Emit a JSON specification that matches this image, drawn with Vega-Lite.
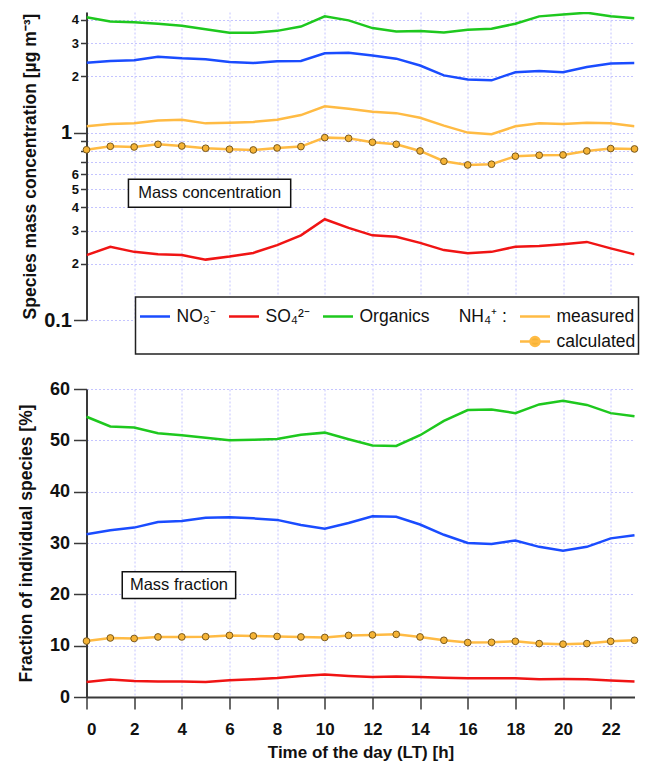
{
  "$schema": "https://vega.github.io/schema/vega-lite/v6.json",
  "padding": {"left": 17.5, "top": 12, "right": 5, "bottom": 5},
  "background": "white",
  "config": {
    "view": {"stroke": null},
    "font": "Liberation Sans",
    "axis": {
      "gridColor": "#c4c4ff",
      "gridDash": [2, 2],
      "gridWidth": 1,
      "domainColor": "#3a3a3a",
      "domainWidth": 2,
      "tickColor": "#3a3a3a",
      "tickWidth": 1.5,
      "labelColor": "#111111",
      "labelFont": "Liberation Sans",
      "labelFontWeight": "bold",
      "titleFont": "Liberation Sans",
      "titleFontWeight": "bold",
      "titleColor": "#111111"
    }
  },
  "datasets": {
    "conc": [
      {"h":0,"s":"NO3","v":2.36},{"h":1,"s":"NO3","v":2.41},{"h":2,"s":"NO3","v":2.43},{"h":3,"s":"NO3","v":2.54},{"h":4,"s":"NO3","v":2.49},{"h":5,"s":"NO3","v":2.46},{"h":6,"s":"NO3","v":2.38},{"h":7,"s":"NO3","v":2.35},{"h":8,"s":"NO3","v":2.40},{"h":9,"s":"NO3","v":2.41},{"h":10,"s":"NO3","v":2.65},{"h":11,"s":"NO3","v":2.67},{"h":12,"s":"NO3","v":2.58},{"h":13,"s":"NO3","v":2.48},{"h":14,"s":"NO3","v":2.28},{"h":15,"s":"NO3","v":2.02},{"h":16,"s":"NO3","v":1.92},{"h":17,"s":"NO3","v":1.90},{"h":18,"s":"NO3","v":2.10},{"h":19,"s":"NO3","v":2.13},{"h":20,"s":"NO3","v":2.10},{"h":21,"s":"NO3","v":2.24},{"h":22,"s":"NO3","v":2.34},{"h":23,"s":"NO3","v":2.35},
      {"h":0,"s":"SO4","v":0.222},{"h":1,"s":"SO4","v":0.246},{"h":2,"s":"SO4","v":0.231},{"h":3,"s":"SO4","v":0.224},{"h":4,"s":"SO4","v":0.222},{"h":5,"s":"SO4","v":0.210},{"h":6,"s":"SO4","v":0.218},{"h":7,"s":"SO4","v":0.228},{"h":8,"s":"SO4","v":0.251},{"h":9,"s":"SO4","v":0.283},{"h":10,"s":"SO4","v":0.345},{"h":11,"s":"SO4","v":0.310},{"h":12,"s":"SO4","v":0.283},{"h":13,"s":"SO4","v":0.278},{"h":14,"s":"SO4","v":0.258},{"h":15,"s":"SO4","v":0.236},{"h":16,"s":"SO4","v":0.227},{"h":17,"s":"SO4","v":0.231},{"h":18,"s":"SO4","v":0.246},{"h":19,"s":"SO4","v":0.248},{"h":20,"s":"SO4","v":0.254},{"h":21,"s":"SO4","v":0.261},{"h":22,"s":"SO4","v":0.241},{"h":23,"s":"SO4","v":0.224},
      {"h":0,"s":"Org","v":4.13},{"h":1,"s":"Org","v":3.92},{"h":2,"s":"Org","v":3.88},{"h":3,"s":"Org","v":3.81},{"h":4,"s":"Org","v":3.72},{"h":5,"s":"Org","v":3.56},{"h":6,"s":"Org","v":3.41},{"h":7,"s":"Org","v":3.41},{"h":8,"s":"Org","v":3.49},{"h":9,"s":"Org","v":3.68},{"h":10,"s":"Org","v":4.17},{"h":11,"s":"Org","v":3.97},{"h":12,"s":"Org","v":3.61},{"h":13,"s":"Org","v":3.46},{"h":14,"s":"Org","v":3.48},{"h":15,"s":"Org","v":3.42},{"h":16,"s":"Org","v":3.54},{"h":17,"s":"Org","v":3.58},{"h":18,"s":"Org","v":3.81},{"h":19,"s":"Org","v":4.17},{"h":20,"s":"Org","v":4.27},{"h":21,"s":"Org","v":4.36},{"h":22,"s":"Org","v":4.18},{"h":23,"s":"Org","v":4.08},
      {"h":0,"s":"NH4 measured","v":1.08},{"h":1,"s":"NH4 measured","v":1.11},{"h":2,"s":"NH4 measured","v":1.12},{"h":3,"s":"NH4 measured","v":1.16},{"h":4,"s":"NH4 measured","v":1.17},{"h":5,"s":"NH4 measured","v":1.12},{"h":6,"s":"NH4 measured","v":1.13},{"h":7,"s":"NH4 measured","v":1.14},{"h":8,"s":"NH4 measured","v":1.17},{"h":9,"s":"NH4 measured","v":1.24},{"h":10,"s":"NH4 measured","v":1.38},{"h":11,"s":"NH4 measured","v":1.34},{"h":12,"s":"NH4 measured","v":1.29},{"h":13,"s":"NH4 measured","v":1.27},{"h":14,"s":"NH4 measured","v":1.20},{"h":15,"s":"NH4 measured","v":1.09},{"h":16,"s":"NH4 measured","v":1.00},{"h":17,"s":"NH4 measured","v":0.98},{"h":18,"s":"NH4 measured","v":1.08},{"h":19,"s":"NH4 measured","v":1.12},{"h":20,"s":"NH4 measured","v":1.11},{"h":21,"s":"NH4 measured","v":1.13},{"h":22,"s":"NH4 measured","v":1.12},{"h":23,"s":"NH4 measured","v":1.08},
      {"h":0,"s":"NH4 calculated","v":0.81},{"h":1,"s":"NH4 calculated","v":0.845},{"h":2,"s":"NH4 calculated","v":0.838},{"h":3,"s":"NH4 calculated","v":0.866},{"h":4,"s":"NH4 calculated","v":0.848},{"h":5,"s":"NH4 calculated","v":0.825},{"h":6,"s":"NH4 calculated","v":0.815},{"h":7,"s":"NH4 calculated","v":0.808},{"h":8,"s":"NH4 calculated","v":0.828},{"h":9,"s":"NH4 calculated","v":0.842},{"h":10,"s":"NH4 calculated","v":0.94},{"h":11,"s":"NH4 calculated","v":0.932},{"h":12,"s":"NH4 calculated","v":0.888},{"h":13,"s":"NH4 calculated","v":0.866},{"h":14,"s":"NH4 calculated","v":0.798},{"h":15,"s":"NH4 calculated","v":0.703},{"h":16,"s":"NH4 calculated","v":0.672},{"h":17,"s":"NH4 calculated","v":0.678},{"h":18,"s":"NH4 calculated","v":0.748},{"h":19,"s":"NH4 calculated","v":0.757},{"h":20,"s":"NH4 calculated","v":0.76},{"h":21,"s":"NH4 calculated","v":0.798},{"h":22,"s":"NH4 calculated","v":0.822},{"h":23,"s":"NH4 calculated","v":0.818}
    ],
    "frac": [
      {"h":0,"s":"Org","v":54.6},{"h":1,"s":"Org","v":52.7},{"h":2,"s":"Org","v":52.5},{"h":3,"s":"Org","v":51.4},{"h":4,"s":"Org","v":51.0},{"h":5,"s":"Org","v":50.5},{"h":6,"s":"Org","v":50.0},{"h":7,"s":"Org","v":50.1},{"h":8,"s":"Org","v":50.25},{"h":9,"s":"Org","v":51.1},{"h":10,"s":"Org","v":51.5},{"h":11,"s":"Org","v":50.2},{"h":12,"s":"Org","v":49.0},{"h":13,"s":"Org","v":48.9},{"h":14,"s":"Org","v":51.0},{"h":15,"s":"Org","v":53.8},{"h":16,"s":"Org","v":55.9},{"h":17,"s":"Org","v":56.0},{"h":18,"s":"Org","v":55.3},{"h":19,"s":"Org","v":57.0},{"h":20,"s":"Org","v":57.7},{"h":21,"s":"Org","v":56.9},{"h":22,"s":"Org","v":55.3},{"h":23,"s":"Org","v":54.7},
      {"h":0,"s":"NO3","v":31.7},{"h":1,"s":"NO3","v":32.5},{"h":2,"s":"NO3","v":33.0},{"h":3,"s":"NO3","v":34.1},{"h":4,"s":"NO3","v":34.3},{"h":5,"s":"NO3","v":34.9},{"h":6,"s":"NO3","v":35.0},{"h":7,"s":"NO3","v":34.8},{"h":8,"s":"NO3","v":34.5},{"h":9,"s":"NO3","v":33.5},{"h":10,"s":"NO3","v":32.8},{"h":11,"s":"NO3","v":33.9},{"h":12,"s":"NO3","v":35.2},{"h":13,"s":"NO3","v":35.1},{"h":14,"s":"NO3","v":33.6},{"h":15,"s":"NO3","v":31.6},{"h":16,"s":"NO3","v":30.0},{"h":17,"s":"NO3","v":29.8},{"h":18,"s":"NO3","v":30.5},{"h":19,"s":"NO3","v":29.25},{"h":20,"s":"NO3","v":28.5},{"h":21,"s":"NO3","v":29.25},{"h":22,"s":"NO3","v":30.9},{"h":23,"s":"NO3","v":31.5},
      {"h":0,"s":"NH4 calculated","v":10.9},{"h":1,"s":"NH4 calculated","v":11.5},{"h":2,"s":"NH4 calculated","v":11.4},{"h":3,"s":"NH4 calculated","v":11.7},{"h":4,"s":"NH4 calculated","v":11.7},{"h":5,"s":"NH4 calculated","v":11.75},{"h":6,"s":"NH4 calculated","v":12.0},{"h":7,"s":"NH4 calculated","v":11.9},{"h":8,"s":"NH4 calculated","v":11.8},{"h":9,"s":"NH4 calculated","v":11.7},{"h":10,"s":"NH4 calculated","v":11.6},{"h":11,"s":"NH4 calculated","v":12.0},{"h":12,"s":"NH4 calculated","v":12.1},{"h":13,"s":"NH4 calculated","v":12.2},{"h":14,"s":"NH4 calculated","v":11.7},{"h":15,"s":"NH4 calculated","v":11.05},{"h":16,"s":"NH4 calculated","v":10.6},{"h":17,"s":"NH4 calculated","v":10.65},{"h":18,"s":"NH4 calculated","v":10.85},{"h":19,"s":"NH4 calculated","v":10.4},{"h":20,"s":"NH4 calculated","v":10.3},{"h":21,"s":"NH4 calculated","v":10.4},{"h":22,"s":"NH4 calculated","v":10.85},{"h":23,"s":"NH4 calculated","v":11.05},
      {"h":0,"s":"SO4","v":2.9},{"h":1,"s":"SO4","v":3.4},{"h":2,"s":"SO4","v":3.1},{"h":3,"s":"SO4","v":3.0},{"h":4,"s":"SO4","v":3.0},{"h":5,"s":"SO4","v":2.9},{"h":6,"s":"SO4","v":3.25},{"h":7,"s":"SO4","v":3.45},{"h":8,"s":"SO4","v":3.7},{"h":9,"s":"SO4","v":4.1},{"h":10,"s":"SO4","v":4.4},{"h":11,"s":"SO4","v":4.1},{"h":12,"s":"SO4","v":3.9},{"h":13,"s":"SO4","v":4.0},{"h":14,"s":"SO4","v":3.9},{"h":15,"s":"SO4","v":3.75},{"h":16,"s":"SO4","v":3.65},{"h":17,"s":"SO4","v":3.65},{"h":18,"s":"SO4","v":3.65},{"h":19,"s":"SO4","v":3.45},{"h":20,"s":"SO4","v":3.5},{"h":21,"s":"SO4","v":3.45},{"h":22,"s":"SO4","v":3.2},{"h":23,"s":"SO4","v":3.0}
    ]
  },
  "spacing": 69,
  "bounds": "flush",
  "resolve": {"scale": {"color": "independent", "x": "independent"}, "legend": {"color": "independent"}},
  "vconcat": [
    {
      "width": 548,
      "height": 308,
      "layer": [
        {
          "data": {"name": "conc"},
          "mark": {"type": "line", "strokeWidth": 2.5, "clip": true},
          "encoding": {
            "x": {
              "field": "h", "type": "quantitative",
              "scale": {"domain": [0, 23], "nice": false, "zero": false},
              "axis": {"values": [0,1,2,3,4,5,6,7,8,9,10,11,12,13,14,15,16,17,18,19,20,21,22,23], "labels": false, "ticks": false, "domain": false, "grid": true, "title": null}
            },
            "y": {
              "field": "v", "type": "quantitative",
              "scale": {"type": "log", "domain": [0.1, 4.4], "nice": false},
              "axis": {
                "values": [0.1, 0.2, 0.3, 0.4, 0.5, 0.6, 0.7, 0.8, 0.9, 1, 2, 3, 4],
                "labelExpr": "datum.value == 0.1 ? '0.1' : datum.value >= 1 ? format(datum.value, 'd') : datum.value > 0.65 ? '' : format(datum.value * 10, '.0f')",
                "labelFontSize": {"condition": {"test": "datum.value == 1 || datum.value == 0.1", "value": 20}, "value": 13},
                "tickSize": {"condition": {"test": "datum.value == 1 || datum.value == 0.1", "value": 13}, "value": 6},
                "labelPadding": 2,
                "grid": true,
                "title": "Species mass concentration [µg m⁻³]",
                "titleFontSize": 17.5,
                "titlePadding": 4.5
              }
            },
            "color": {
              "field": "s", "type": "nominal",
              "scale": {
                "domain": ["NO3", "SO4", "Org", "NH4 measured", "blank1", "blank2", "blank3", "NH4 calculated"],
                "range": ["#1a4cff", "#f01414", "#1ec81e", "#ffbb44", "transparent", "transparent", "transparent", "#ffbb44"]
              },
              "legend": {
                "orient": "none",
                "legendX": 49,
                "legendY": 285,
                "direction": "horizontal",
                "columns": 4,
                "title": null,
                "labelExpr": "datum.value == 'NO3' ? 'NO₃⁻\u00a0\u00a0\u00a0' : datum.value == 'SO4' ? 'SO₄²⁻\u00a0\u00a0' : datum.value == 'Org' ? 'Organics\u00a0\u00a0\u00a0\u00a0\u00a0\u00a0NH₄⁺ :' : datum.value == 'NH4 measured' ? 'measured' : datum.value == 'NH4 calculated' ? 'calculated' : ''",
                "labelFont": "Liberation Sans",
                "labelFontSize": 17.5,
                "labelColor": "#111111",
                "labelOffset": 5,
                "symbolType": "stroke",
                "symbolSize": 900,
                "symbolStrokeWidth": 2.5,
                "strokeColor": "#222222",
                "fillColor": "white",
                "padding": 3,
                "columnPadding": 7,
                "rowPadding": -7,
                "encode": {
                  "legend": {"update": {"strokeWidth": {"value": 1.5}}},
                  "symbols": {
                    "update": {
                      "shape": {"signal": "datum.value == 'NH4 calculated' ? 'M-1,0H1M-0.3,0A0.3,0.3,0,1,1,0.3,0A0.3,0.3,0,1,1,-0.3,0Z' : 'stroke'"},
                      "fill": {"signal": "datum.value == 'NH4 calculated' ? '#f5b335' : 'transparent'"}
                    }
                  }
                }
              }
            }
          }
        },
        {
          "data": {"name": "conc"},
          "transform": [{"filter": "datum.s == 'NH4 calculated'"}],
          "mark": {"type": "circle", "size": 45, "fill": "#f5b335", "stroke": "#7a5a1e", "strokeWidth": 1, "opacity": 1},
          "encoding": {
            "x": {"field": "h", "type": "quantitative"},
            "y": {"field": "v", "type": "quantitative"}
          }
        },
        {
          "data": {"values": [{}]},
          "mark": {"type": "rect", "fill": "white", "stroke": "#111111", "strokeWidth": 1.5},
          "encoding": {
            "x": {"datum": 1.76, "type": "quantitative"},
            "x2": {"datum": 8.57},
            "y": {"datum": 0.564, "type": "quantitative"},
            "y2": {"datum": 0.4}
          }
        },
        {
          "data": {"values": [{}]},
          "mark": {"type": "text", "font": "Liberation Sans", "fontSize": 16.5, "fill": "#111111"},
          "encoding": {
            "x": {"datum": 5.17, "type": "quantitative"},
            "y": {"datum": 0.475, "type": "quantitative"},
            "text": {"value": "Mass concentration"}
          }
        }
      ]
    },
    {
      "width": 548,
      "height": 308,
      "layer": [
        {
          "data": {"name": "frac"},
          "mark": {"type": "line", "strokeWidth": 2.5},
          "encoding": {
            "x": {
              "field": "h", "type": "quantitative",
              "scale": {"domain": [0, 23], "nice": false, "zero": false},
              "axis": {
                "values": [0,1,2,3,4,5,6,7,8,9,10,11,12,13,14,15,16,17,18,19,20,21,22,23],
                "labelExpr": "datum.value % 2 === 0 ? datum.label : ''",
                "labelFontSize": 17,
                "labelPadding": 12,
                "tickSize": 12,
                "grid": true,
                "title": "Time of the day (LT) [h]",
                "titleFontSize": 17,
                "titlePadding": 7
              }
            },
            "y": {
              "field": "v", "type": "quantitative",
              "scale": {"domain": [0, 60], "nice": false},
              "axis": {
                "values": [0, 10, 20, 30, 40, 50, 60],
                "labelFontSize": 18,
                "tickSize": 13,
                "labelPadding": 4,
                "grid": true,
                "title": "Fraction of individual species [%]",
                "titleFontSize": 17.5,
                "titlePadding": 13.5
              }
            },
            "color": {
              "field": "s", "type": "nominal",
              "scale": {
                "domain": ["NO3", "SO4", "Org", "NH4 calculated"],
                "range": ["#1a4cff", "#f01414", "#1ec81e", "#ffbb44"]
              },
              "legend": null
            }
          }
        },
        {
          "data": {"name": "frac"},
          "transform": [{"filter": "datum.s == 'NH4 calculated'"}],
          "mark": {"type": "circle", "size": 45, "fill": "#f5b335", "stroke": "#7a5a1e", "strokeWidth": 1, "opacity": 1},
          "encoding": {
            "x": {"field": "h", "type": "quantitative"},
            "y": {"field": "v", "type": "quantitative"}
          }
        },
        {
          "data": {"values": [{}]},
          "mark": {"type": "rect", "fill": "white", "stroke": "#111111", "strokeWidth": 1.5},
          "encoding": {
            "x": {"datum": 1.5, "type": "quantitative"},
            "x2": {"datum": 6.26},
            "y": {"datum": 24.4, "type": "quantitative"},
            "y2": {"datum": 19.2}
          }
        },
        {
          "data": {"values": [{}]},
          "mark": {"type": "text", "font": "Liberation Sans", "fontSize": 16.5, "fill": "#111111"},
          "encoding": {
            "x": {"datum": 3.88, "type": "quantitative"},
            "y": {"datum": 21.8, "type": "quantitative"},
            "text": {"value": "Mass fraction"}
          }
        }
      ]
    }
  ]
}
